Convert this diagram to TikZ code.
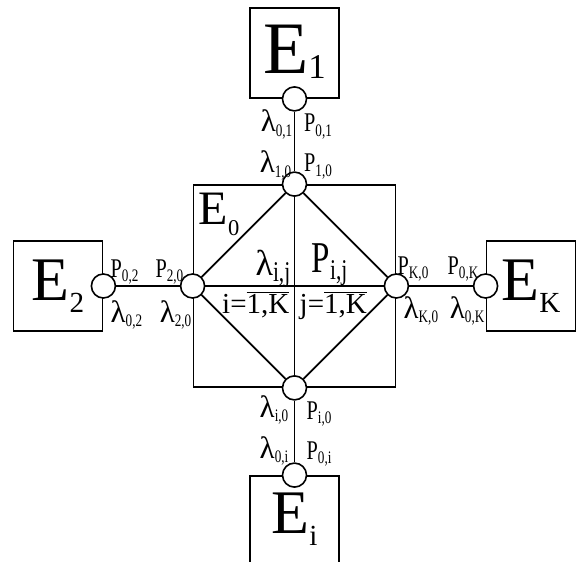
\documentclass[tikz,border=0pt]{standalone}
\usepackage{fontspec}
\setmainfont{Liberation Serif}
\newfontfamily\lblfont{Liberation Serif}[FakeStretch=0.75]
\tikzset{
  subsys/.style={draw,line width=1.8pt,minimum width=89pt,minimum height=90pt,inner sep=0pt},
  hub/.style={draw,line width=1.8pt,minimum size=202pt,inner sep=0pt},
  port/.style={circle,draw,line width=1.6pt,fill=white,minimum size=24pt,inner sep=0pt},
  link/.style={line width=1.8pt},
  lbl/.style={inner sep=0pt,font=\lblfont\fontsize{27}{27}\selectfont},
  midlbl/.style={inner sep=0pt,font=\lblfont\fontsize{44}{44}\selectfont},
  rnglbl/.style={inner sep=0pt,font=\fontsize{29}{29}\selectfont},
  biglbl/.style={inner sep=0pt,font=\fontsize{62}{62}\selectfont}
}
\newcommand{\lidx}[1]{\raisebox{-0.15em}{\scalebox{0.65}{#1}}}
\newcommand{\eidx}[2][0.2em]{\raisebox{-#1}{\scalebox{0.47}{#2}}}
\newcommand{\lam}[1]{{\rmfamily\fontsize{#1}{#1}\selectfont λ}}

\begin{document}
\begin{tikzpicture}[x=1pt,y=1pt]
\useasboundingbox (-294.5,-276) rectangle (286.5,286);
\clip (-294.5,-276) rectangle (286.5,286);
% subsystems
\node[hub] (e0) at (0,0) {};
\node[subsys] (e1) at (0,233) {};
\node[subsys] (e2) at (-236.5,0) {};
\node[subsys] (ek) at (236.5,0) {};
\node[subsys,minimum height=110pt] (ei) at (0,-245) {};
% ports
\node[port] (p01) at (e1.south) {};
\node[port] (p10) at (e0.north) {};
\node[port] (p02) at (e2.east) {};
\node[port] (p20) at (e0.west) {};
\node[port] (pK0) at (e0.east) {};
\node[port] (p0K) at (ek.west) {};
\node[port] (pi0) at (e0.south) {};
\node[port] (p0i) at (ei.north) {};
% links
\foreach \a/\b in {p01/p10,p10/pi0,pi0/p0i,p02/p20,p20/pK0,pK0/p0K}{\draw[link] (\a) -- (\b);}
\foreach \a/\b in {p10/pK0,pK0/pi0,pi0/p20,p20/p10}{\draw[link] (\a) -- (\b);}
% subsystem names
\node[biglbl,font=\fontsize{74}{74}\selectfont] (t1) at (0,234) {E\eidx[0.07em]{1}};
\node[biglbl] (t2) at (e2) {E\eidx{2}};
\node[biglbl] (tK) at (ek) {E\eidx{K}};
\node[biglbl] (ti) at ([yshift=12pt]ei.center) {E\eidx{i}};
\node[biglbl,font=\fontsize{48}{48}\selectfont,anchor=base west] (t0) at (-96,61) {E\eidx[0.22em]{0}};
% port labels
\node[lbl,anchor=base east] (lam01) at (-2,154) {\lam{31}\lidx{0,1}};
\node[lbl,anchor=base west] (P01) at (9.5,154) {P\lidx{0,1}};
\node[lbl,anchor=base east] (lam10) at (-3,113) {\lam{31}\lidx{1,0}};
\node[lbl,anchor=base west] (P10) at (9.5,114) {P\lidx{1,0}};
\node[lbl,anchor=base west] (P02) at (-184,9) {P\lidx{0,2}};
\node[lbl,anchor=base west] (lam02) at (-184,-36) {\lam{31}\lidx{0,2}};
\node[lbl,anchor=base east] (P20) at (-111,9) {P\lidx{2,0}};
\node[lbl,anchor=base east] (lam20) at (-103,-36) {\lam{31}\lidx{2,0}};
\node[lbl,anchor=base west] (PK0) at (103,12) {P\lidx{K,0}};
\node[lbl,anchor=base east] (P0K) at (184,12) {P\lidx{0,K}};
\node[lbl,anchor=base west] (lamK0) at (109,-32) {\lam{31}\lidx{K,0}};
\node[lbl,anchor=base east] (lam0K) at (190,-32) {\lam{31}\lidx{0,K}};
\node[lbl,anchor=base east] (lami0) at (-6,-131) {\lam{31}\lidx{i,0}};
\node[lbl,anchor=base west] (Pi0) at (12,-133) {P\lidx{i,0}};
\node[lbl,anchor=base east] (lam0i) at (-6,-172) {\lam{31}\lidx{0,i}};
\node[lbl,anchor=base west] (P0i) at (12,-173) {P\lidx{0,i}};
% inner labels
\node[midlbl,anchor=base east] (lamij) at (-4,11) {\lam{36}\lidx{i,j}};
\node[midlbl,anchor=base west] (Pij) at (17,13) {P\lidx{i,j}};
\node[rnglbl,anchor=base east] (irng) at (-5,-27) {i=$\overline{\mbox{1,K}}$};
\node[rnglbl,anchor=base west] (jrng) at (5,-27) {j=$\overline{\mbox{1,K}}$};
\end{tikzpicture}
\end{document}
